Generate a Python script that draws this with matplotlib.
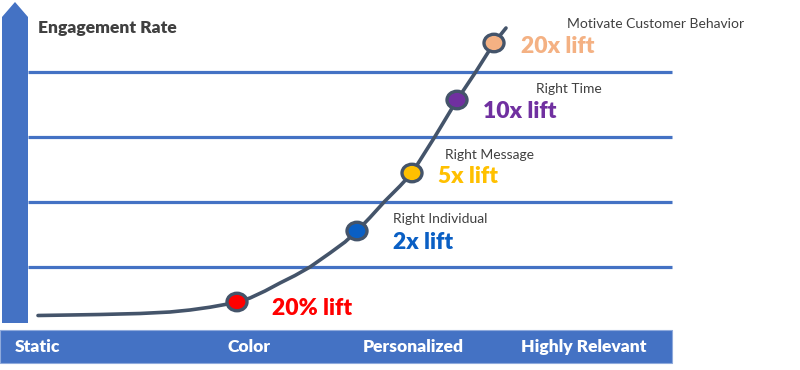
import matplotlib
matplotlib.use("Agg")
import matplotlib.pyplot as plt
from matplotlib.patches import Polygon, Rectangle, Ellipse

# ---- data (diagram coordinates, pixel-like space) ----
curve_x = [38, 70, 100, 140, 170, 190, 210, 225, 237, 250, 265, 280, 295, 310, 330, 345, 357,
           370, 385, 400, 412, 435, 457, 476, 494, 506]
curve_y = [315.5, 315, 314.5, 313.5, 312, 310, 307.2, 304.5, 302, 298, 291, 283, 275.5, 267, 253, 242, 231,
           217.5, 201, 186, 173, 136.5, 100, 71.5, 43, 28]

stage_x = [237, 357, 412, 457, 494]
stage_y = [302, 231, 173, 100, 43]
stage_colors = ["#FF0000", "#0A5FC4", "#FFC000", "#7030A0", "#F4B183"]
lift_labels = ["20% lift", "2x lift", "5x lift", "10x lift", "20x lift"]
stage_names = ["", "Right Individual", "Right Message", "Right Time", "Motivate Customer Behavior"]

grid_levels = [71.5, 136.5, 201.5, 266.5]

category_labels = ["Static", "Color", "Personalized", "Highly Relevant"]
category_x = [15, 227, 363, 521]

y_title = "Engagement Rate"

# ---- styling ----
BLUE = "#4472C4"
SLATE = "#44546A"
GRAY = "#404040"
FONT = "Lato"

fig = plt.figure(figsize=(8, 3.7), dpi=100)
ax = fig.add_axes([0, 0, 1, 1])
ax.set_xlim(0, 800)
ax.set_ylim(370, 0)
ax.axis("off")

# vertical arrow
ax.add_patch(Polygon([(2, 323), (2, 17), (15, 2), (28, 17), (28, 323)],
                     closed=True, facecolor=BLUE, edgecolor="none", zorder=2))
# bottom bar
ax.add_patch(Rectangle((0, 330), 672, 33, facecolor=BLUE, edgecolor="#8FAADC",
                       linewidth=0.8, zorder=2))

# horizontal grid lines
for gy in grid_levels:
    ax.plot([28, 672], [gy, gy], color=BLUE, lw=2.3, solid_capstyle="butt", zorder=1)

# curve
ax.plot(curve_x, curve_y, color=SLATE, lw=2.6, solid_joinstyle="round",
        solid_capstyle="round", zorder=3)

# markers
for sx, sy, c in zip(stage_x, stage_y, stage_colors):
    ax.add_patch(Ellipse((sx, sy), 20, 17.5, facecolor=c, edgecolor=SLATE,
                         linewidth=2.4, zorder=4))

# lift labels
lift_pos = [(272, 315), (393, 249), (438, 183), (483, 118), (521, 53)]
for (lx, ly), txt, c in zip(lift_pos, lift_labels, stage_colors):
    ax.text(lx, ly, txt, color=c, fontsize=16.5, fontweight="heavy",
            family=FONT, ha="left", va="baseline", zorder=5)

# stage names
name_pos = [(0, 0), (393, 223), (445, 159), (536, 93), (567, 28)]
for (nx, ny), txt in zip(name_pos, stage_names):
    if txt:
        ax.text(nx, ny, txt, color=GRAY, fontsize=10, family=FONT,
                ha="left", va="baseline", zorder=5)

# title
ax.text(38, 33, y_title, color=GRAY, fontsize=12.6, fontweight="heavy",
        family=FONT, ha="left", va="baseline", zorder=5)

# category labels
for cx, txt in zip(category_x, category_labels):
    ax.text(cx, 352, txt, color="white", fontsize=12.6, fontweight="heavy",
            family=FONT, ha="left", va="baseline", zorder=5)

fig.savefig("out.png", dpi=100, facecolor="white")
